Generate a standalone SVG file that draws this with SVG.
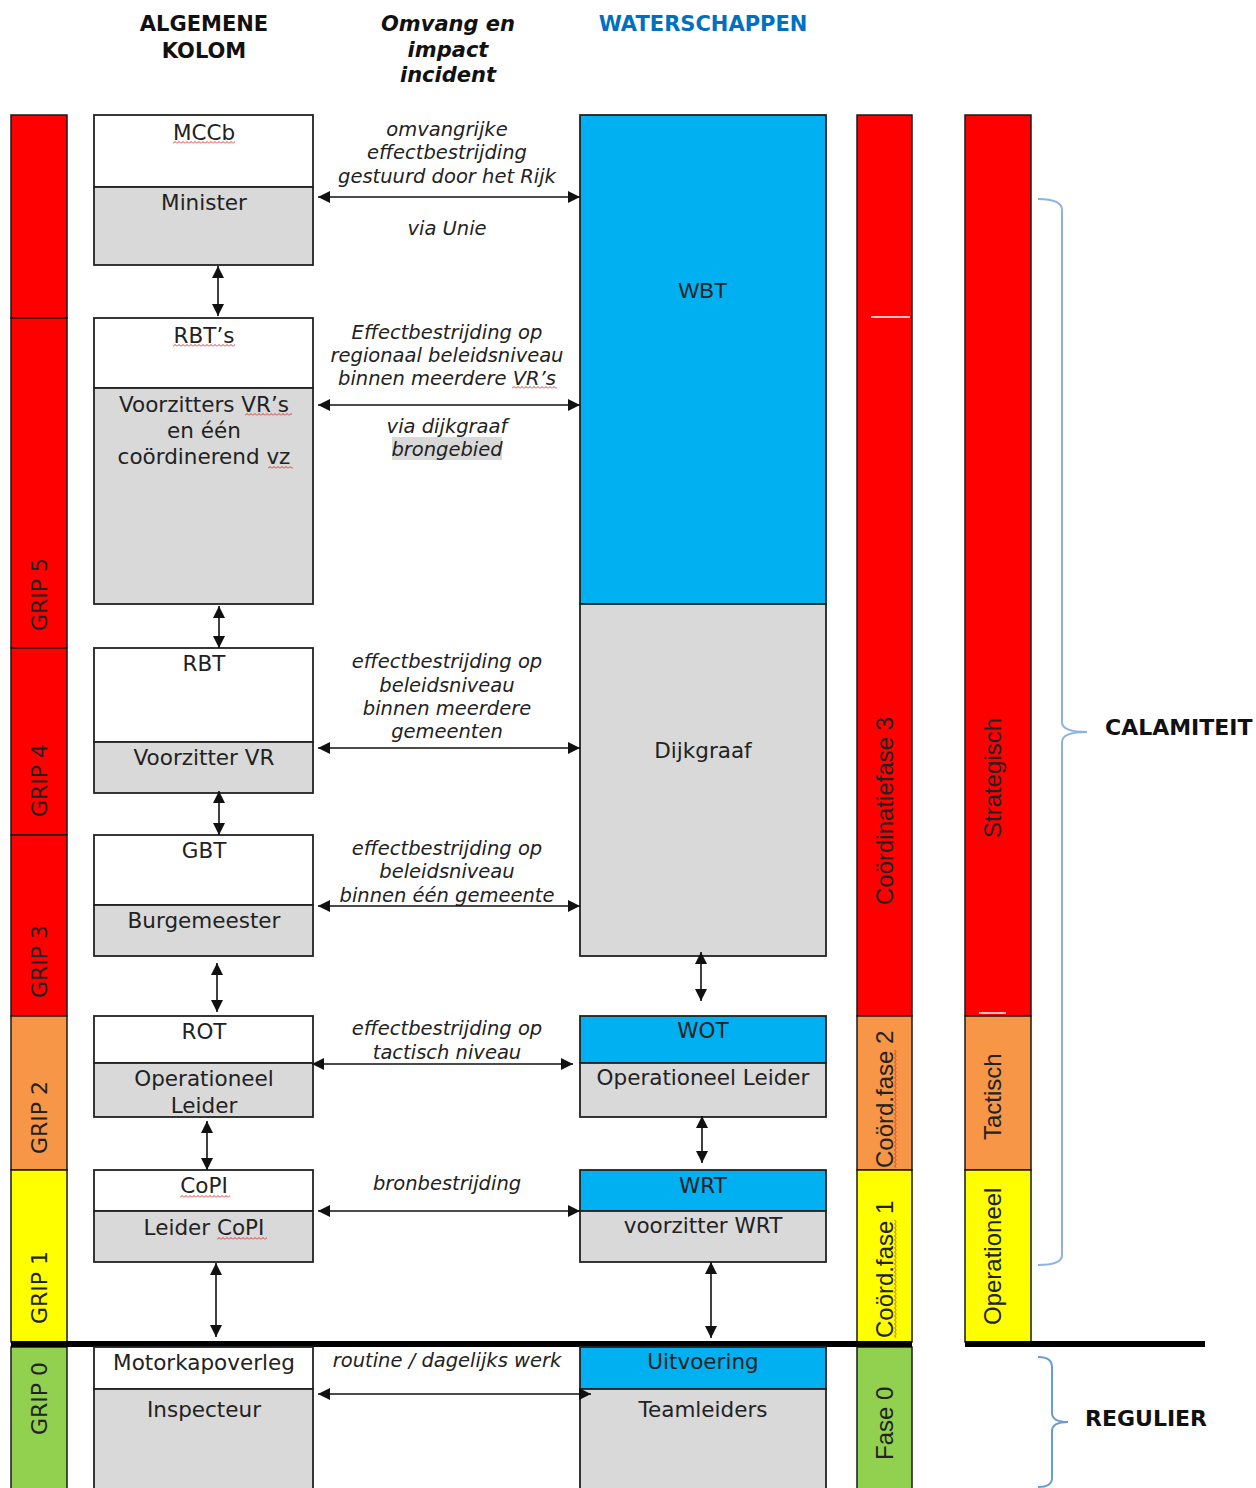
<svg xmlns="http://www.w3.org/2000/svg" width="1256" height="1488" viewBox="0 0 1256 1488">
<defs>
<style>
.bar{stroke:#1a1a1a;stroke-width:1.5}
.red{fill:#FF0000}.orange{fill:#F79646}.yellow{fill:#FFFF00}.green{fill:#92D050}
.box{stroke:#222;stroke-width:1.8}
.white{fill:#FFFFFF}.gray{fill:#D9D9D9}.blue{fill:#00B0F0}
.t{font-family:"DejaVu Sans",Verdana,sans-serif;font-size:21.5px;fill:#222;text-anchor:middle}
.lbl{font-family:"DejaVu Sans",Verdana,sans-serif;font-size:19.5px;font-style:italic;fill:#222;text-anchor:middle}
.grip{font-family:"DejaVu Sans",Verdana,sans-serif;font-size:22px;fill:#222}
.side{font-family:"Liberation Sans",Arial,sans-serif;font-size:24px;fill:#222}
.hdr{font-family:"DejaVu Sans",Verdana,sans-serif;font-size:21px;font-weight:bold;fill:#111;text-anchor:middle}
.big{font-family:"DejaVu Sans",Verdana,sans-serif;font-size:22px;font-weight:bold;fill:#111}
.arr{stroke:#111;stroke-width:1.6;fill:none;marker-start:url(#ah);marker-end:url(#ah)}
.brace{fill:none;stroke-width:2}
</style>
<marker id="ah" viewBox="0 0 12 12" markerWidth="12" markerHeight="12" refX="12" refY="6" orient="auto-start-reverse" markerUnits="userSpaceOnUse">
<path d="M0,0 L12,6 L0,12 z" fill="#111"/>
</marker>
<pattern id="sq" width="4" height="3" patternUnits="userSpaceOnUse">
<path d="M0,2.5 L2,0.5 L4,2.5" stroke="#e02020" fill="none" stroke-width="0.9"/>
</pattern>
</defs>

<!-- headers -->
<g id="headers">
<text class="hdr" x="204" y="31">ALGEMENE</text>
<text class="hdr" x="204" y="58">KOLOM</text>
<text class="hdr" x="448" y="31" font-style="italic">Omvang en</text>
<text class="hdr" x="448" y="57" font-style="italic">impact</text>
<text class="hdr" x="448" y="82" font-style="italic">incident</text>
<text class="hdr" x="703" y="31" style="fill:#0070C0">WATERSCHAPPEN</text>
</g>

<!-- GRIP bar -->
<g id="grip-bar">
<rect class="bar red" x="11" y="115" width="56" height="203"/>
<rect class="bar red" x="11" y="318" width="56" height="330"/>
<rect class="bar red" x="11" y="648" width="56" height="187"/>
<rect class="bar red" x="11" y="835" width="56" height="181"/>
<rect class="bar orange" x="11" y="1016" width="56" height="154"/>
<rect class="bar yellow" x="11" y="1170" width="56" height="172"/>
<rect class="bar green" x="11" y="1347" width="56" height="150"/>
<text class="grip" transform="translate(47,631) rotate(-90)">GRIP 5</text>
<text class="grip" transform="translate(47,817) rotate(-90)">GRIP 4</text>
<text class="grip" transform="translate(47,998) rotate(-90)">GRIP 3</text>
<text class="grip" transform="translate(47,1154) rotate(-90)">GRIP 2</text>
<text class="grip" transform="translate(47,1324) rotate(-90)">GRIP 1</text>
<text class="grip" transform="translate(47,1435) rotate(-90)">GRIP 0</text>
</g>

<!-- Coordinatiefase bar -->
<g id="coord-bar">
<rect class="bar red" x="857" y="115" width="55" height="901"/>
<rect class="bar orange" x="857" y="1016" width="55" height="154"/>
<rect class="bar yellow" x="857" y="1170" width="55" height="172"/>
<rect class="bar green" x="857" y="1347" width="55" height="150"/>
<line x1="871" y1="317" x2="910" y2="317" stroke="#fff" stroke-width="1.5"/>
<text class="side" transform="translate(893,905) rotate(-90)">Coördinatiefase 3</text>
<text class="side" transform="translate(893,1168) rotate(-90)">Coörd.fase 2</text>
<text class="side" transform="translate(893,1338) rotate(-90)">Coörd.fase 1</text>
<text class="side" transform="translate(893,1460) rotate(-90)">Fase 0</text>
<rect transform="translate(894,1168) rotate(-90)" width="118" height="3" fill="url(#sq)"/>
<rect transform="translate(894,1338) rotate(-90)" width="118" height="3" fill="url(#sq)"/>
</g>

<!-- Strategisch bar -->
<g id="level-bar">
<rect class="bar red" x="965" y="115" width="66" height="901"/>
<rect class="bar orange" x="965" y="1016" width="66" height="154"/>
<rect class="bar yellow" x="965" y="1170" width="66" height="172"/>
<line x1="979" y1="1013" x2="1006" y2="1013" stroke="#fff" stroke-width="1.5"/>
<text class="side" transform="translate(1001,838) rotate(-90)">Strategisch</text>
<text class="side" transform="translate(1001,1140) rotate(-90)">Tactisch</text>
<text class="side" transform="translate(1001,1325) rotate(-90)">Operationeel</text>
</g>

<!-- thick separator lines -->
<g id="separators">
<rect x="11" y="1341" width="901" height="6" fill="#000"/>
<rect x="965" y="1341" width="240" height="6" fill="#000"/>
</g>

<!-- Left column nodes -->
<g id="mccb">
<rect class="box white" x="94" y="115" width="219" height="72"/>
<rect class="box gray" x="94" y="187" width="219" height="78"/>
<text class="t" x="204" y="140">MCCb</text>
<rect transform="translate(173,141)" width="62" height="3" fill="url(#sq)"/>
<text class="t" x="204" y="210">Minister</text>
</g>
<g id="rbts">
<rect class="box white" x="94" y="318" width="219" height="70"/>
<rect class="box gray" x="94" y="388" width="219" height="216"/>
<text class="t" x="204" y="343">RBT’s</text>
<rect transform="translate(173,344)" width="62" height="3" fill="url(#sq)"/>
<text class="t" x="204" y="412">Voorzitters VR’s</text>
<rect transform="translate(245,413)" width="47" height="3" fill="url(#sq)"/>
<text class="t" x="204" y="438">en één</text>
<text class="t" x="204" y="464">coördinerend vz</text>
<rect transform="translate(268,466)" width="25" height="3" fill="url(#sq)"/>
</g>
<g id="rbt">
<rect class="box white" x="94" y="648" width="219" height="94"/>
<rect class="box gray" x="94" y="742" width="219" height="51"/>
<text class="t" x="204" y="671">RBT</text>
<text class="t" x="204" y="765">Voorzitter VR</text>
</g>
<g id="gbt">
<rect class="box white" x="94" y="835" width="219" height="70"/>
<rect class="box gray" x="94" y="905" width="219" height="51"/>
<text class="t" x="204" y="858">GBT</text>
<text class="t" x="204" y="928">Burgemeester</text>
</g>
<g id="rot">
<rect class="box white" x="94" y="1016" width="219" height="47"/>
<rect class="box gray" x="94" y="1063" width="219" height="54"/>
<text class="t" x="204" y="1039">ROT</text>
<text class="t" x="204" y="1086">Operationeel</text>
<text class="t" x="204" y="1113">Leider</text>
</g>
<g id="copi">
<rect class="box white" x="94" y="1170" width="219" height="41"/>
<rect class="box gray" x="94" y="1211" width="219" height="51"/>
<text class="t" x="204" y="1193">CoPI</text>
<rect transform="translate(180,1195)" width="50" height="3" fill="url(#sq)"/>
<text class="t" x="204" y="1235">Leider CoPI</text>
<rect transform="translate(217,1237)" width="50" height="3" fill="url(#sq)"/>
</g>
<g id="motorkap">
<rect class="box white" x="94" y="1347" width="219" height="42"/>
<rect class="box gray" x="94" y="1389" width="219" height="110"/>
<text class="t" x="204" y="1370">Motorkapoverleg</text>
<text class="t" x="204" y="1417">Inspecteur</text>
</g>

<!-- Right column nodes -->
<g id="wbt">
<rect class="box blue" x="580" y="115" width="246" height="489"/>
<text class="t" x="703" y="298" style="font-family:'Liberation Sans',Arial,sans-serif;font-size:22px">WBT</text>
</g>
<g id="dijkgraaf">
<rect class="box gray" x="580" y="604" width="246" height="352"/>
<text class="t" x="703" y="758">Dijkgraaf</text>
</g>
<g id="wot">
<rect class="box blue" x="580" y="1016" width="246" height="47"/>
<rect class="box gray" x="580" y="1063" width="246" height="54"/>
<text class="t" x="703" y="1038">WOT</text>
<text class="t" x="703" y="1085">Operationeel Leider</text>
</g>
<g id="wrt">
<rect class="box blue" x="580" y="1170" width="246" height="41"/>
<rect class="box gray" x="580" y="1211" width="246" height="51"/>
<text class="t" x="703" y="1193">WRT</text>
<text class="t" x="703" y="1233">voorzitter WRT</text>
</g>
<g id="uitvoering">
<rect class="box blue" x="580" y="1347" width="246" height="42"/>
<rect class="box gray" x="580" y="1389" width="246" height="110"/>
<text class="t" x="703" y="1369">Uitvoering</text>
<text class="t" x="703" y="1417">Teamleiders</text>
</g>

<!-- middle labels -->
<g id="labels">
<text class="lbl" x="447" y="136">omvangrijke</text>
<text class="lbl" x="447" y="159">effectbestrijding</text>
<text class="lbl" x="447" y="183">gestuurd door het Rijk</text>
<text class="lbl" x="447" y="235">via Unie</text>
<text class="lbl" x="447" y="339">Effectbestrijding op</text>
<text class="lbl" x="447" y="362">regionaal beleidsniveau</text>
<text class="lbl" x="447" y="385">binnen meerdere VR’s</text>
<rect transform="translate(512,386)" width="45" height="3" fill="url(#sq)"/>
<text class="lbl" x="447" y="433">via dijkgraaf</text>
<rect x="392" y="437" width="110" height="23" fill="#D9D9D9"/>
<text class="lbl" x="447" y="456">brongebied</text>
<text class="lbl" x="447" y="668">effectbestrijding op</text>
<text class="lbl" x="447" y="692">beleidsniveau</text>
<text class="lbl" x="447" y="715">binnen meerdere</text>
<text class="lbl" x="447" y="738">gemeenten</text>
<text class="lbl" x="447" y="855">effectbestrijding op</text>
<text class="lbl" x="447" y="878">beleidsniveau</text>
<text class="lbl" x="447" y="902">binnen één gemeente</text>
<text class="lbl" x="447" y="1035">effectbestrijding op</text>
<text class="lbl" x="447" y="1059">tactisch niveau</text>
<text class="lbl" x="447" y="1190">bronbestrijding</text>
<text class="lbl" x="447" y="1367">routine / dagelijks werk</text>
</g>

<!-- connectors -->
<g id="connectors">
<line class="arr" x1="318" y1="197" x2="580" y2="197"/>
<line class="arr" x1="318" y1="405" x2="580" y2="405"/>
<line class="arr" x1="318" y1="748" x2="580" y2="748"/>
<line class="arr" x1="318" y1="906" x2="580" y2="906"/>
<line class="arr" x1="312" y1="1064" x2="573" y2="1064"/>
<line class="arr" x1="318" y1="1211" x2="580" y2="1211"/>
<line class="arr" x1="318" y1="1394" x2="591" y2="1394"/>
<line class="arr" x1="218" y1="266" x2="218" y2="316"/>
<line class="arr" x1="219" y1="606" x2="219" y2="648"/>
<line class="arr" x1="219" y1="791" x2="219" y2="835"/>
<line class="arr" x1="217" y1="963" x2="217" y2="1012"/>
<line class="arr" x1="207" y1="1121" x2="207" y2="1170"/>
<line class="arr" x1="216" y1="1263" x2="216" y2="1337"/>
<line class="arr" x1="701" y1="952" x2="701" y2="1001"/>
<line class="arr" x1="702" y1="1116" x2="702" y2="1163"/>
<line class="arr" x1="711" y1="1262" x2="711" y2="1338"/>
</g>

<!-- braces -->
<g id="calamiteit">
<path class="brace" stroke="#8DB3E2" d="M1038,199 Q1062,199 1062,210 L1062,722 Q1062,732 1087,732 Q1062,732 1062,742 L1062,1255 Q1062,1265 1038,1265"/>
<text class="big" x="1105" y="735">CALAMITEIT</text>
</g>
<g id="regulier">
<path class="brace" stroke="#6C9BD6" d="M1038,1357 Q1052,1357 1052,1367 L1052,1413 Q1052,1422 1068,1422 Q1052,1422 1052,1431 L1052,1478 Q1052,1487 1038,1487"/>
<text class="big" x="1085" y="1426">REGULIER</text>
</g>
</svg>
